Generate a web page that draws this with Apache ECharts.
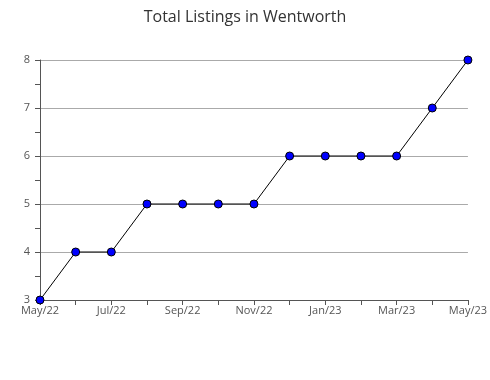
<!DOCTYPE html>
<html><head><meta charset="utf-8">
<script src="https://cdn.jsdelivr.net/npm/echarts@6/dist/echarts.min.js"></script>
<style>html,body{margin:0;padding:0;background:#fff}#c{width:490px;height:380px}</style>
</head><body><div id="c"></div>
<script>
const titleText = 'Total Listings in Wentworth';
const months = ['May/22','Jun/22','Jul/22','Aug/22','Sep/22','Oct/22','Nov/22','Dec/22','Jan/23','Feb/23','Mar/23','Apr/23','May/23'];
const listings = [3,4,4,5,5,5,5,6,6,6,6,7,8];
const yMin = 3, yMax = 8;

const chart = echarts.init(document.getElementById('c'));
chart.setOption({
  animation: false,
  title: { text: titleText, left: 'center', top: 4,
    textStyle: { fontFamily: 'Open Sans', fontWeight: 'normal', fontSize: 16, color: '#333' } },
  grid: { left: 40, right: 19, top: 60, bottom: 80, containLabel: false },
  xAxis: {
    type: 'category', data: months, boundaryGap: false,
    axisLine: { lineStyle: { color: '#555' } },
    axisTick: { show: true, interval: 0, length: 5, lineStyle: { color: '#555' } },
    axisLabel: { interval: 1, color: '#555', fontFamily: 'Open Sans', fontSize: 11, margin: 5 },
    splitLine: { show: false }
  },
  yAxis: {
    type: 'value', min: yMin, max: yMax, interval: 1,
    axisLine: { show: true, lineStyle: { color: '#555' } },
    axisTick: { show: true, length: 5, lineStyle: { color: '#555' } },
    minorTick: { show: true, splitNumber: 2, length: 5, lineStyle: { color: '#555' } },
    axisLabel: { color: '#555', fontFamily: 'Open Sans', fontSize: 11, margin: 10 },
    splitLine: { show: true, lineStyle: { color: '#aaa' } }
  },
  series: [{
    type: 'line', data: listings,
    lineStyle: { color: '#000', width: 1 },
    symbol: 'circle', symbolSize: 8,
    itemStyle: { color: '#0000ff', borderColor: '#000', borderWidth: 1 }
  }]
});
</script></body></html>
